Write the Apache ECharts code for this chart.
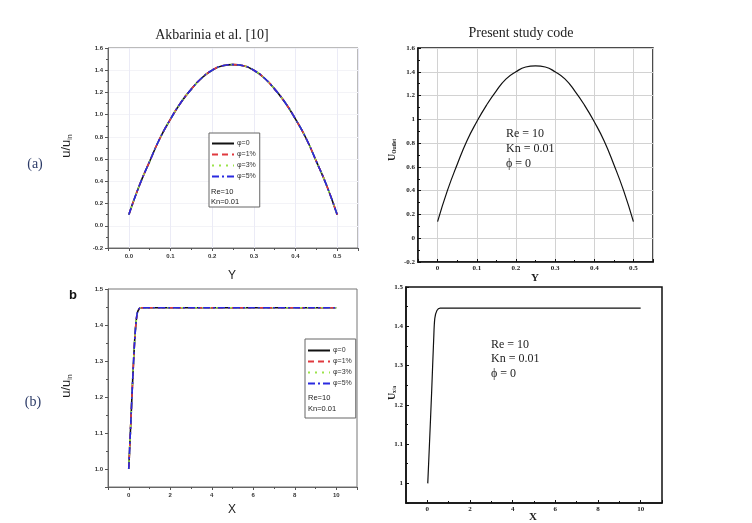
<!DOCTYPE html>
<html>
<head>
    <meta charset="utf-8">
    <title>Velocity profiles</title>
    <script src="https://cdn.jsdelivr.net/npm/echarts@6/dist/echarts.min.js"></script>
</head>
<body style="margin:0;background:#fff">
    <div id="main" style="width:752px;height:523px"></div>
    <script type="text/javascript">
        // ---- data ----
        // (a) velocity across the channel, Y in [0, 0.5]
        var yPos = [0, 0.025, 0.05, 0.075, 0.1, 0.125, 0.15, 0.175, 0.2, 0.225, 0.25,
                    0.275, 0.3, 0.325, 0.35, 0.375, 0.4, 0.425, 0.45, 0.475, 0.5];
        var akbProfile = [0.10, 0.36, 0.58, 0.79, 0.96, 1.11, 1.23, 1.33, 1.40, 1.44, 1.45,
                          1.44, 1.40, 1.33, 1.23, 1.11, 0.96, 0.79, 0.58, 0.36, 0.10];
        var presentProfile = [0.14, 0.40, 0.62, 0.82, 0.98, 1.12, 1.24, 1.34, 1.40, 1.44, 1.45,
                              1.44, 1.40, 1.34, 1.24, 1.12, 0.98, 0.82, 0.62, 0.40, 0.14];
        // (b) centreline velocity along the channel
        var xAkb = [0, 0.1, 0.2, 0.3, 0.4, 0.5, 0.6, 1, 2, 4, 6, 8, 10];
        var akbAxial = [1.0, 1.13, 1.26, 1.37, 1.43, 1.445, 1.448, 1.448, 1.448, 1.448, 1.448, 1.448, 1.448];
        var xPresent = [0.02, 0.1, 0.2, 0.3, 0.35, 0.45, 0.6, 1, 2, 4, 6, 8, 10];
        var presentAxial = [1.0, 1.1, 1.23, 1.37, 1.42, 1.44, 1.446, 1.446, 1.446, 1.446, 1.446, 1.446, 1.446];
        var caseNames = ['\u03c6=0', '\u03c6=1%', '\u03c6=3%', '\u03c6=5%'];
        var caseColors = ['#111111', '#e0393e', '#9be34a', '#2a2ae0'];
        var caseTypes = ['solid', [6, 4], [2, 5], [7, 3, 2, 3]];

        var sans = 'Liberation Sans, Arial, sans-serif';
        var serif = 'Liberation Serif, Times New Roman, serif';

        function pairs(xs, ys) {
            return xs.map(function (x, i) { return [x, ys[i]]; });
        }

        var myChart = echarts.init(document.getElementById('main'), null, { renderer: 'canvas' });

        // axis builder, left panels are the Origin style ones, right ones Tecplot style
        function axis(grid, min, max, interval, left, fmt, showMin, showMax, opts) {
            var a = {
                type: 'value', gridIndex: grid, min: min, max: max,
                axisLine: { show: true, onZero: false, lineStyle: { color: left ? '#666' : '#111', width: left ? 1 : 1.5 } },
                axisTick: { show: true, inside: !left, length: 3, lineStyle: { color: left ? '#555' : '#111' } },
                minorTick: { show: true, splitNumber: 2, length: 2, lineStyle: { color: left ? '#555' : '#111' } },
                axisLabel: {
                    show: true, fontSize: left ? 6 : 7, fontWeight: 'bold', color: left ? '#333' : '#222',
                    fontFamily: left ? sans : serif, margin: left ? 5 : 3,
                    showMinLabel: showMin, showMaxLabel: showMax,
                    formatter: fmt
                },
                splitLine: { show: false }
            };
            if (interval) a.interval = interval;
            for (var k in opts) a[k] = opts[k];
            return a;
        }
        function fix1(v) { return v.toFixed(1); }
        function plain(v) { return String(+v.toFixed(2)); }

        var series = [];
        caseNames.forEach(function (n, i) {
            series.push({
                name: n, type: 'line', xAxisIndex: 0, yAxisIndex: 0, data: pairs(yPos, akbProfile),
                smooth: true, symbol: 'none', z: 2 + i,
                lineStyle: { color: caseColors[i], width: 1.6, type: caseTypes[i] },
                itemStyle: { color: caseColors[i] }
            });
        });
        series.push({
            name: 'present a', type: 'line', xAxisIndex: 1, yAxisIndex: 1, data: pairs(yPos, presentProfile),
            smooth: true, symbol: 'none', lineStyle: { color: '#111', width: 1.2 }
        });
        caseNames.forEach(function (n, i) {
            series.push({
                name: n, type: 'line', xAxisIndex: 2, yAxisIndex: 2, data: pairs(xAkb, akbAxial),
                smooth: 0.3, symbol: 'none', z: 2 + i,
                lineStyle: { color: caseColors[i], width: 1.6, type: caseTypes[i] },
                itemStyle: { color: caseColors[i] }
            });
        });
        series.push({
            name: 'present b', type: 'line', xAxisIndex: 3, yAxisIndex: 3, data: pairs(xPresent, presentAxial),
            smooth: 0.3, symbol: 'none', lineStyle: { color: '#111', width: 1.2 }
        });

        function legendBox(left, top, pad) {
            return {
                data: caseNames, orient: 'vertical', left: left, top: top,
                padding: pad, itemWidth: 22, itemHeight: 8, itemGap: 4,
                borderColor: '#666', borderWidth: 1, backgroundColor: '#fff',
                itemStyle: { color: 'transparent', borderWidth: 0 },
                textStyle: { fontSize: 7, color: '#333', fontFamily: sans, padding: [0, 0, 0, -2] },
                selectedMode: false
            };
        }

        function txt(x, y, s, size, font, extra) {
            var t = { type: 'text', x: x, y: y, z: 100,
                style: { text: s, fontSize: size, fontFamily: font, fill: '#222', textAlign: 'left', textVerticalAlign: 'middle' } };
            for (var k in extra) t.style[k] = extra[k];
            return t;
        }
        function vlabel(x, y, main, sub, size, font, weight) {
            return {
                type: 'text', x: x, y: y, rotation: Math.PI / 2, z: 100,
                style: {
                    text: main + '{s|' + sub + '}', fontSize: size, fontFamily: font, fontWeight: weight, fill: '#222',
                    textAlign: 'center', textVerticalAlign: 'middle',
                    rich: { s: { fontSize: size * 0.55, fontFamily: font, fontWeight: weight, fill: '#222', padding: [size * 0.6, 0, 0, 0] } }
                }
            };
        }

        option = {
            animation: false,
            backgroundColor: '#fff',
            grid: [
                { left: 108, top: 48, width: 250, height: 200, show: true, borderColor: '#777', borderWidth: 1 },
                { left: 418, top: 48, width: 235, height: 214, show: true, borderColor: '#111', borderWidth: 1.5 },
                { left: 108, top: 289, width: 249, height: 198, show: true, borderColor: '#777', borderWidth: 1 },
                { left: 406, top: 287, width: 256, height: 216, show: true, borderColor: '#111', borderWidth: 1.5 }
            ],
            xAxis: [
                axis(0, -0.05, 0.55, null, true, fix1, false, false, { splitLine: { show: true, lineStyle: { color: '#ebebf6' } } }),
                axis(1, -0.05, 0.55, null, false, plain, false, false, { splitLine: { show: true, lineStyle: { color: '#d2d2d2' } } }),
                axis(2, -1, 11, null, true, plain, false, false, {}),
                axis(3, -1, 11, null, false, plain, false, false, {})
            ],
            yAxis: [
                axis(0, -0.2, 1.6, 0.2, true, fix1, true, true, { splitLine: { show: true, lineStyle: { color: '#f3f3f7' } } }),
                axis(1, -0.2, 1.6, 0.2, false, plain, true, true, { splitLine: { show: true, lineStyle: { color: '#d2d2d2' } } }),
                axis(2, 0.95, 1.5, null, true, fix1, false, true, {}),
                axis(3, 0.95, 1.5, null, false, plain, false, true, {})
            ],
            legend: [
                legendBox(209, 133, [7, 4, 27, 2]),
                legendBox(305, 339, [8, 4, 31, 2])
            ],
            series: series,
            graphic: [
                txt(212, 35, 'Akbarinia et al. [10]', 14, serif, { textAlign: 'center' }),
                txt(521, 33, 'Present study code', 14, serif, { textAlign: 'center' }),
                txt(35, 164, '(a)', 14, serif, { textAlign: 'center', fill: '#2b3a67' }),
                txt(33, 402, '(b)', 14, serif, { textAlign: 'center', fill: '#2b3a67' }),
                txt(73, 295, 'b', 13, sans, { textAlign: 'center', fontWeight: 'bold', fill: '#111' }),
                txt(232, 276, 'Y', 12, sans, { textAlign: 'center' }),
                txt(232, 510, 'X', 12, sans, { textAlign: 'center' }),
                txt(535, 278, 'Y', 11, serif, { textAlign: 'center', fontWeight: 'bold' }),
                txt(533, 517, 'X', 11, serif, { textAlign: 'center', fontWeight: 'bold' }),
                vlabel(66, 146, 'u/u', 'in', 13, sans, 'normal'),
                vlabel(66, 386, 'u/u', 'in', 13, sans, 'normal'),
                vlabel(392, 150, 'U', 'Outlet', 10, serif, 'bold'),
                vlabel(392, 393, 'U', 'x/a', 10, serif, 'bold'),
                // annotations inside the legend boxes
                txt(211, 192, 'Re=10', 7.5, sans),
                txt(211, 202, 'Kn=0.01', 7.5, sans),
                txt(308, 398, 'Re=10', 7.5, sans),
                txt(308, 409, 'Kn=0.01', 7.5, sans),
                // Tecplot text boxes
                txt(506, 134, 'Re = 10', 12, serif),
                txt(506, 149, 'Kn = 0.01', 12, serif),
                txt(506, 164, '\u03d5 = 0', 12, serif),
                txt(491, 345, 'Re = 10', 12, serif),
                txt(491, 359, 'Kn = 0.01', 12, serif),
                txt(491, 374, '\u03d5 = 0', 12, serif)
            ]
        };

        myChart.setOption(option);
    </script>
</body>
</html>
